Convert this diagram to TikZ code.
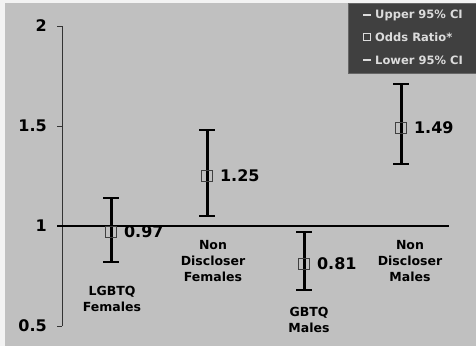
\documentclass[tikz,border=0pt]{standalone}
\usepackage{fontspec}
\setmainfont{DejaVu Sans}
\usetikzlibrary{positioning}
\definecolor{plotbg}{HTML}{C0C0C0}
\definecolor{legbg}{HTML}{404040}
\definecolor{legtxt}{HTML}{DCDCDC}

\begin{document}
\begin{tikzpicture}[
  x=1pt, y=-1pt,
  font=\bfseries,
  axis/.style={line width=1pt, draw=black!80},
  bar/.style={line width=3pt},
  whisker/.style={line width=2pt},
  estbox/.style={draw=black!75, line width=0.8pt, minimum size=11pt, inner sep=0pt},
  val/.style={font=\fontsize{16}{18}\bfseries\selectfont, inner sep=0pt},
  grp/.style={font=\fontsize{12.5}{16}\bfseries\selectfont, align=center},
  ticklbl/.style={font=\fontsize{16}{18}\bfseries\selectfont, anchor=east, inner sep=0pt},
  leg/.style={font=\fontsize{11.5}{12}\bfseries\selectfont, text=legtxt, anchor=west, inner sep=0pt},
]
\useasboundingbox (0,0) rectangle (476,346);

% ---------------- background ----------------
\fill[white!80!plotbg] (0,0) rectangle (476,346);
\fill[plotbg] (5,3) rectangle (476,346);

% ---------------- axis ----------------
\def\yzero{226}  % pixel row of OR = 1
\def\yunit{200}  % pixels per unit OR
\coordinate (axTop) at (62,26);
\coordinate (axBot) at (62,326);
\draw[axis] (axTop) -- (axBot);
\foreach \v in {0.5,1,1.5,2} {
  \pgfmathsetmacro{\ty}{\yzero-(\v-1)*\yunit}
  \draw[axis] (57,\ty) -- (62,\ty);
  \node[ticklbl] (tk\v) at (47,\ty) {\v};
}
% reference line OR = 1
\coordinate (refL) at (57,\yzero);
\coordinate (refR) at (449,\yzero);
\draw[line width=1.5pt] (refL) -- (refR);

% ---------------- estimates with 95% CI ----------------
\foreach \n/\x/\hi/\est/\lo in {lf/111/1.14/0.97/0.82, nf/207/1.48/1.25/1.05,
                                 gm/304/0.97/0.81/0.68, nm/401/1.71/1.49/1.31} {
  \pgfmathsetmacro{\yhi}{\yzero-(\hi-1)*\yunit}
  \pgfmathsetmacro{\yest}{\yzero-(\est-1)*\yunit}
  \pgfmathsetmacro{\ylo}{\yzero-(\lo-1)*\yunit}
  \coordinate (\n hi) at (\x,\yhi);
  \coordinate (\n lo) at (\x,\ylo);
  \draw[bar] (\n hi) -- (\n lo);
  \draw[whisker] ([xshift=-8pt]\n hi) -- ([xshift=8pt]\n hi);
  \draw[whisker] ([xshift=-8pt]\n lo) -- ([xshift=8pt]\n lo);
  \node[estbox] (\n box) at (\x,\yest) {};
  \node[val, right=7pt of \n box] (\n val) {\est};
}

% group labels
\node[grp] (lfname) at (112,299) {LGBTQ\\Females};
\node[grp] (nfname) at (213,261) {Non\\Discloser\\Females};
\node[grp] (gmname) at (309,320) {GBTQ\\Males};
\node[grp] (nmname) at (410,261) {Non\\Discloser\\Males};

% ---------------- legend ----------------
\draw[fill=legbg, draw=black!60] (348,3) rectangle (476,73);
\coordinate (lgU) at (363,15);
\coordinate (lgO) at (366.5,37);
\coordinate (lgL) at (363,60);
\draw[legtxt, line width=1.2pt] (lgU) -- ++(8,0);
\node[draw=legtxt, line width=0.6pt, minimum size=7pt, inner sep=0pt] (lgbox) at (lgO) {};
\draw[legtxt, line width=1.2pt] (lgL) -- ++(8,0);
\node[leg] (lgUt) at (375,15) {Upper 95\% CI};
\node[leg] (lgOt) at (375,37) {Odds Ratio*};
\node[leg] (lgLt) at (375,60) {Lower 95\% CI};

\end{tikzpicture}
\end{document}
